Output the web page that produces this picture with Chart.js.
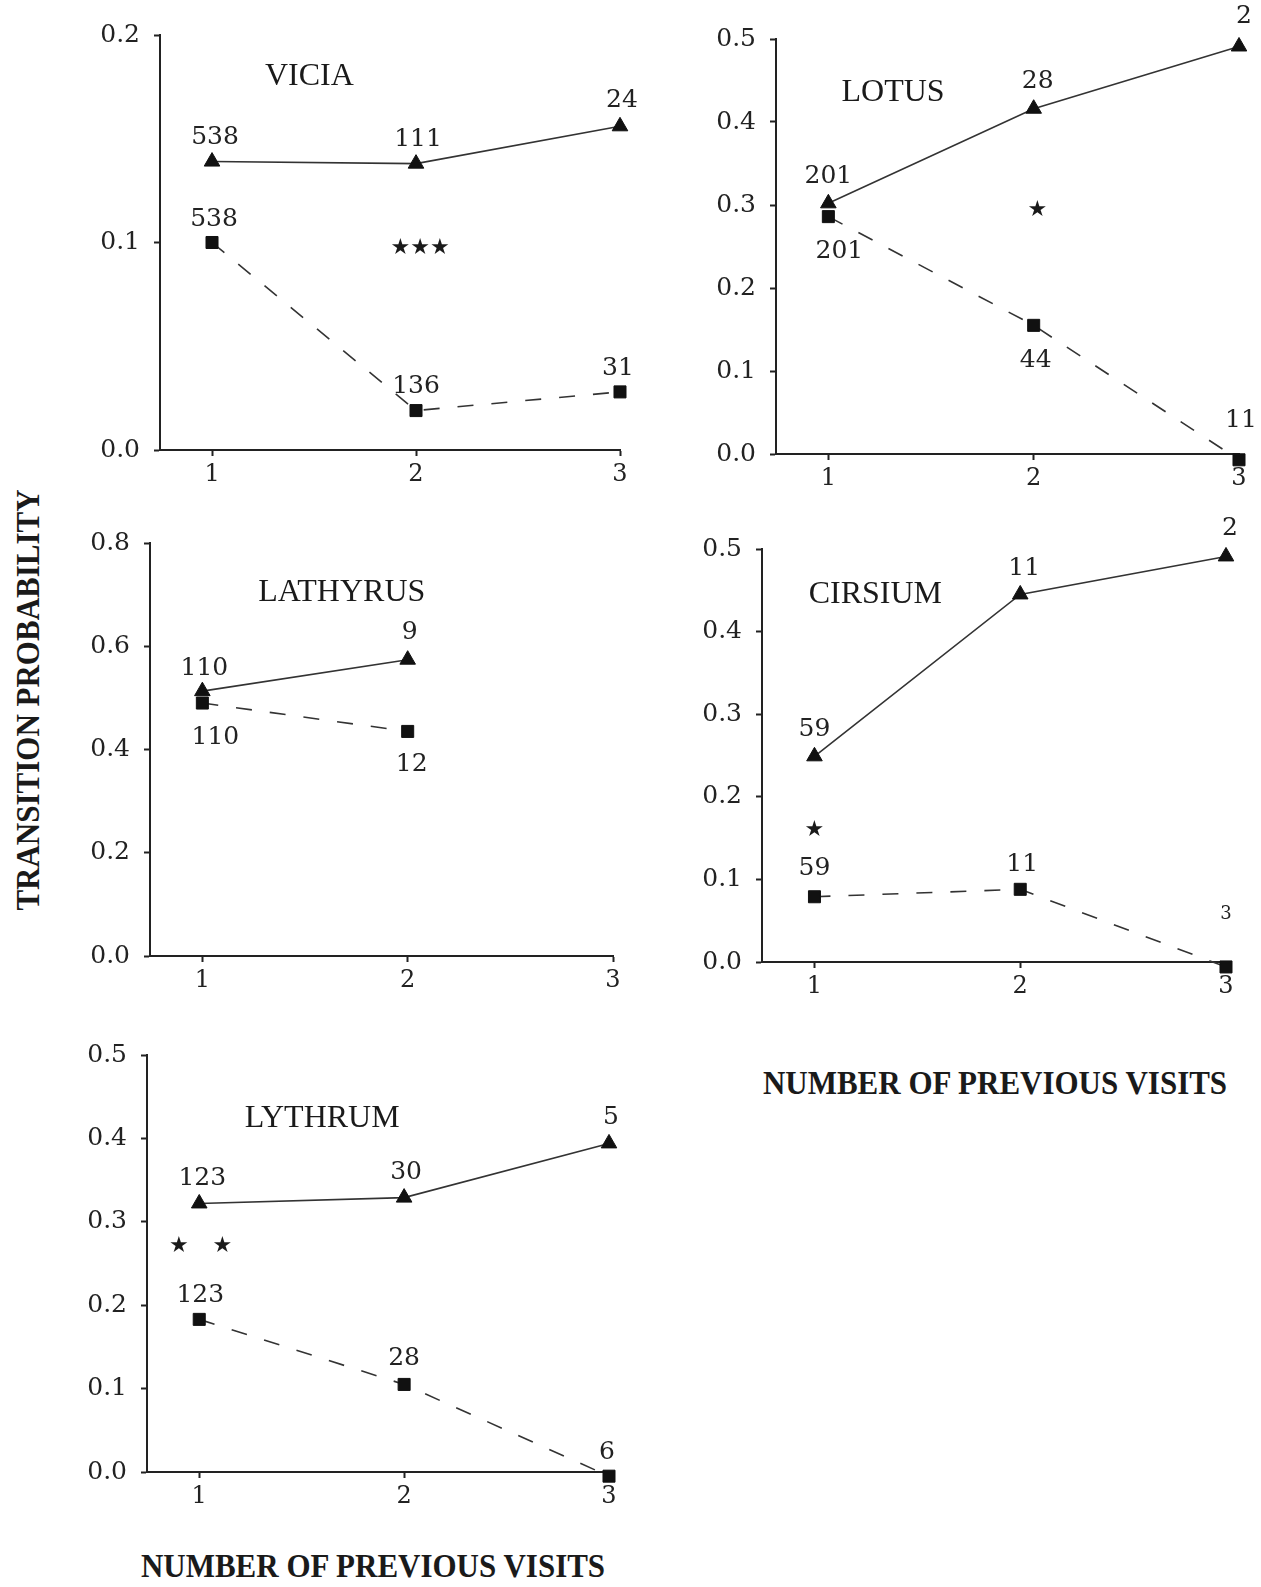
<!DOCTYPE html>
<html><head><meta charset="utf-8">
<script src="https://cdn.jsdelivr.net/npm/chart.js@4/dist/chart.umd.min.js"></script>
<style>
html,body{margin:0;padding:0;background:#fff;width:1261px;height:1587px;overflow:hidden;position:relative}
canvas{position:absolute}
.lab{position:absolute;font-family:'Liberation Serif',serif;font-weight:bold;font-size:31px;color:#1a1a1a;white-space:nowrap;line-height:1;transform:translate(-50%,-50%) scale(1,1.12)}
#ylab{transform:translate(-50%,-50%) rotate(-90deg) scale(1,1.12)}
</style></head><body>
<div class="lab" id="ylab" style="left:27px;top:700px">TRANSITION PROBABILITY</div>
<div class="lab" style="left:373px;top:1565px">NUMBER OF PREVIOUS VISITS</div>
<div class="lab" style="left:995px;top:1082px">NUMBER OF PREVIOUS VISITS</div>
<script>
// ---- data ----
const visits = [1, 2, 3];
const xTickValues = [1, 2, 3];

const viciaTriangles = [0.139, 0.138, 0.156];
const viciaSquares   = [0.100, 0.019, 0.028];
const viciaTriangleN = [538, 111, 24];
const viciaSquareN   = [538, 136, 31];
const viciaYTicks    = [0.0, 0.1, 0.2];

const lotusTriangles = [0.302, 0.416, 0.491];
const lotusSquares   = [0.286, 0.155, -0.007];
const lotusTriangleN = [201, 28, 2];
const lotusSquareN   = [201, 44, 11];
const lotusYTicks    = [0.0, 0.1, 0.2, 0.3, 0.4, 0.5];

const lathyrusTriangles = [0.513, 0.574];
const lathyrusSquares   = [0.490, 0.435];
const lathyrusTriangleN = [110, 9];
const lathyrusSquareN   = [110, 12];
const lathyrusYTicks    = [0.0, 0.2, 0.4, 0.6, 0.8];

const cirsiumTriangles = [0.249, 0.445, 0.491];
const cirsiumSquares   = [0.079, 0.088, -0.006];
const cirsiumTriangleN = [59, 11, 2];
const cirsiumSquareN   = [59, 11, 3];
const cirsiumYTicks    = [0.0, 0.1, 0.2, 0.3, 0.4, 0.5];

const lythrumTriangles = [0.322, 0.329, 0.394];
const lythrumSquares   = [0.183, 0.105, -0.005];
const lythrumTriangleN = [123, 30, 5];
const lythrumSquareN   = [123, 28, 6];
const lythrumYTicks    = [0.0, 0.1, 0.2, 0.3, 0.4, 0.5];

// ---- layout (positions / styles) ----
const panels = [
  {title:'VICIA', tri:viciaTriangles, sq:viciaSquares, triN:viciaTriangleN, sqN:viciaSquareN, yTicks:viciaYTicks,
   area:{L:160,T:35,R:620,B:450}, pr:30, titleAt:[1.477,0.1798],
   stars:[{t:'★★★', at:[2.02,0.0974]}],
   triOff:[[3,-24],[2,-24],[2,-26]], sqOff:[[2,-23],[0,-24],[-2,-23]], sqSize:[25,25,25]},
  {title:'LOTUS', tri:lotusTriangles, sq:lotusSquares, triN:lotusTriangleN, sqN:lotusSquareN, yTicks:lotusYTicks,
   area:{L:776,T:38.5,R:1238.5,B:453.5}, pr:22, titleAt:[1.315,0.436],
   stars:[{t:'★', at:[2.018,0.294]}],
   triOff:[[0,-27],[4,-27],[5,-30]], sqOff:[[11,35],[2,35],[2,-39]], sqSize:[25,25,25]},
  {title:'LATHYRUS', tri:lathyrusTriangles, sq:lathyrusSquares, triN:lathyrusTriangleN, sqN:lathyrusSquareN, yTicks:lathyrusYTicks,
   area:{L:150,T:543.3,R:613.3,B:956.5}, pr:30, titleAt:[1.679,0.7045],
   stars:[],
   triOff:[[2,-23],[2,-27]], sqOff:[[13,34],[4,33]], sqSize:[25,25]},
  {title:'CIRSIUM', tri:cirsiumTriangles, sq:cirsiumSquares, triN:cirsiumTriangleN, sqN:cirsiumSquareN, yTicks:cirsiumYTicks,
   area:{L:762,T:549.4,R:1225.5,B:962.5}, pr:30, titleAt:[1.296,0.4448],
   stars:[{t:'★', at:[1.0,0.159]}],
   triOff:[[0,-27],[4,-26],[4,-28]], sqOff:[[0,-28],[2,-25],[0,-53]], sqSize:[25,25,18]},
  {title:'LYTHRUM', tri:lythrumTriangles, sq:lythrumSquares, triN:lythrumTriangleN, sqN:lythrumSquareN, yTicks:lythrumYTicks,
   area:{L:147,T:1055,R:609,B:1472}, pr:30, titleAt:[1.6,0.424],
   stars:[{t:'★', at:[0.9,0.2708]},{t:'★', at:[1.113,0.2708]}],
   triOff:[[3,-25],[2,-25],[2,-26]], sqOff:[[1,-24],[0,-26],[-2,-24]], sqSize:[25,25,25]}
];

const YW = 90, XH = 45, PT = 42;
const INK = '#1a1a1a';
const NUMFONT = '"DejaVu Serif"';

function makeAnnot(p){
  return {
    id:'annot',
    afterDatasetsDraw(chart){
      const ctx = chart.ctx, xs = chart.scales.x, ys = chart.scales.y;
      ctx.save();
      ctx.fillStyle = INK; ctx.textAlign = 'center'; ctx.textBaseline = 'middle';
      ctx.font = '32px "Liberation Serif"';
      ctx.fillText(p.title, xs.getPixelForValue(p.titleAt[0]), ys.getPixelForValue(p.titleAt[1]));
      ctx.font = '22px "DejaVu Sans"';
      p.stars.forEach(s => ctx.fillText(s.t, xs.getPixelForValue(s.at[0]), ys.getPixelForValue(s.at[1])));
      const mTri = chart.getDatasetMeta(0).data, mSq = chart.getDatasetMeta(1).data;
      ctx.fillStyle = '#222';
      p.triN.forEach((n,i) => {
        ctx.font = '25px ' + NUMFONT;
        ctx.fillText(String(n), mTri[i].x + p.triOff[i][0], mTri[i].y + p.triOff[i][1]);
      });
      p.sqN.forEach((n,i) => {
        ctx.font = p.sqSize[i] + 'px ' + NUMFONT;
        ctx.fillText(String(n), mSq[i].x + p.sqOff[i][0], mSq[i].y + p.sqOff[i][1]);
      });
      ctx.restore();
    }
  };
}

panels.forEach(p => {
  const a = p.area;
  const c = document.createElement('canvas');
  const w = Math.round(a.R - a.L + YW + p.pr), h = Math.round(a.B - a.T + PT + XH);
  c.width = w; c.height = h;
  c.style.left = (a.L - YW) + 'px'; c.style.top = (a.T - PT) + 'px';
  c.style.width = w + 'px'; c.style.height = h + 'px';
  document.body.appendChild(c);
  const axisCommon = {
    grid:{drawOnChartArea:false, drawTicks:true, tickLength:6, tickColor:'#222', tickWidth:2},
    border:{display:true, color:'#222', width:2}
  };
  new Chart(c, {
    type:'line',
    data:{datasets:[
      {data:p.tri.map((v,i)=>({x:visits[i], y:v})), borderColor:'#333', borderWidth:1.6,
       pointStyle:'triangle', pointRadius:9, pointBackgroundColor:'#111', pointBorderColor:'#111', pointBorderWidth:1, clip:false, tension:0},
      {data:p.sq.map((v,i)=>({x:visits[i], y:v})), borderColor:'#333', borderWidth:1.6, borderDash:[16,18],
       pointStyle:'rect', pointRadius:8.5, pointBackgroundColor:'#111', pointBorderColor:'#111', pointBorderWidth:1, clip:false, tension:0}
    ]},
    options:{
      responsive:false, animation:false, devicePixelRatio:1, events:[],
      layout:{padding:{top:PT, right:p.pr, left:0, bottom:0}},
      plugins:{legend:{display:false}, tooltip:{enabled:false}},
      scales:{
        x:Object.assign({type:'linear', min:0.745, max:3,
          afterBuildTicks:s=>{s.ticks = xTickValues.map(v=>({value:v}));},
          afterFit:s=>{s.height = XH;},
          ticks:{padding:4, color:'#222', font:{family:'DejaVu Serif', size:24}, callback:v=>String(v), maxRotation:0, autoSkip:false}}, axisCommon),
        y:Object.assign({type:'linear', min:p.yTicks[0], max:p.yTicks[p.yTicks.length-1],
          afterBuildTicks:s=>{s.ticks = p.yTicks.map(v=>({value:v}));},
          afterFit:s=>{s.width = YW;},
          ticks:{padding:14, color:'#222', font:{family:'DejaVu Serif', size:25}, callback:v=>v.toFixed(1), autoSkip:false}}, axisCommon)
      }
    },
    plugins:[makeAnnot(p)]
  });
});
</script>
</body></html>
